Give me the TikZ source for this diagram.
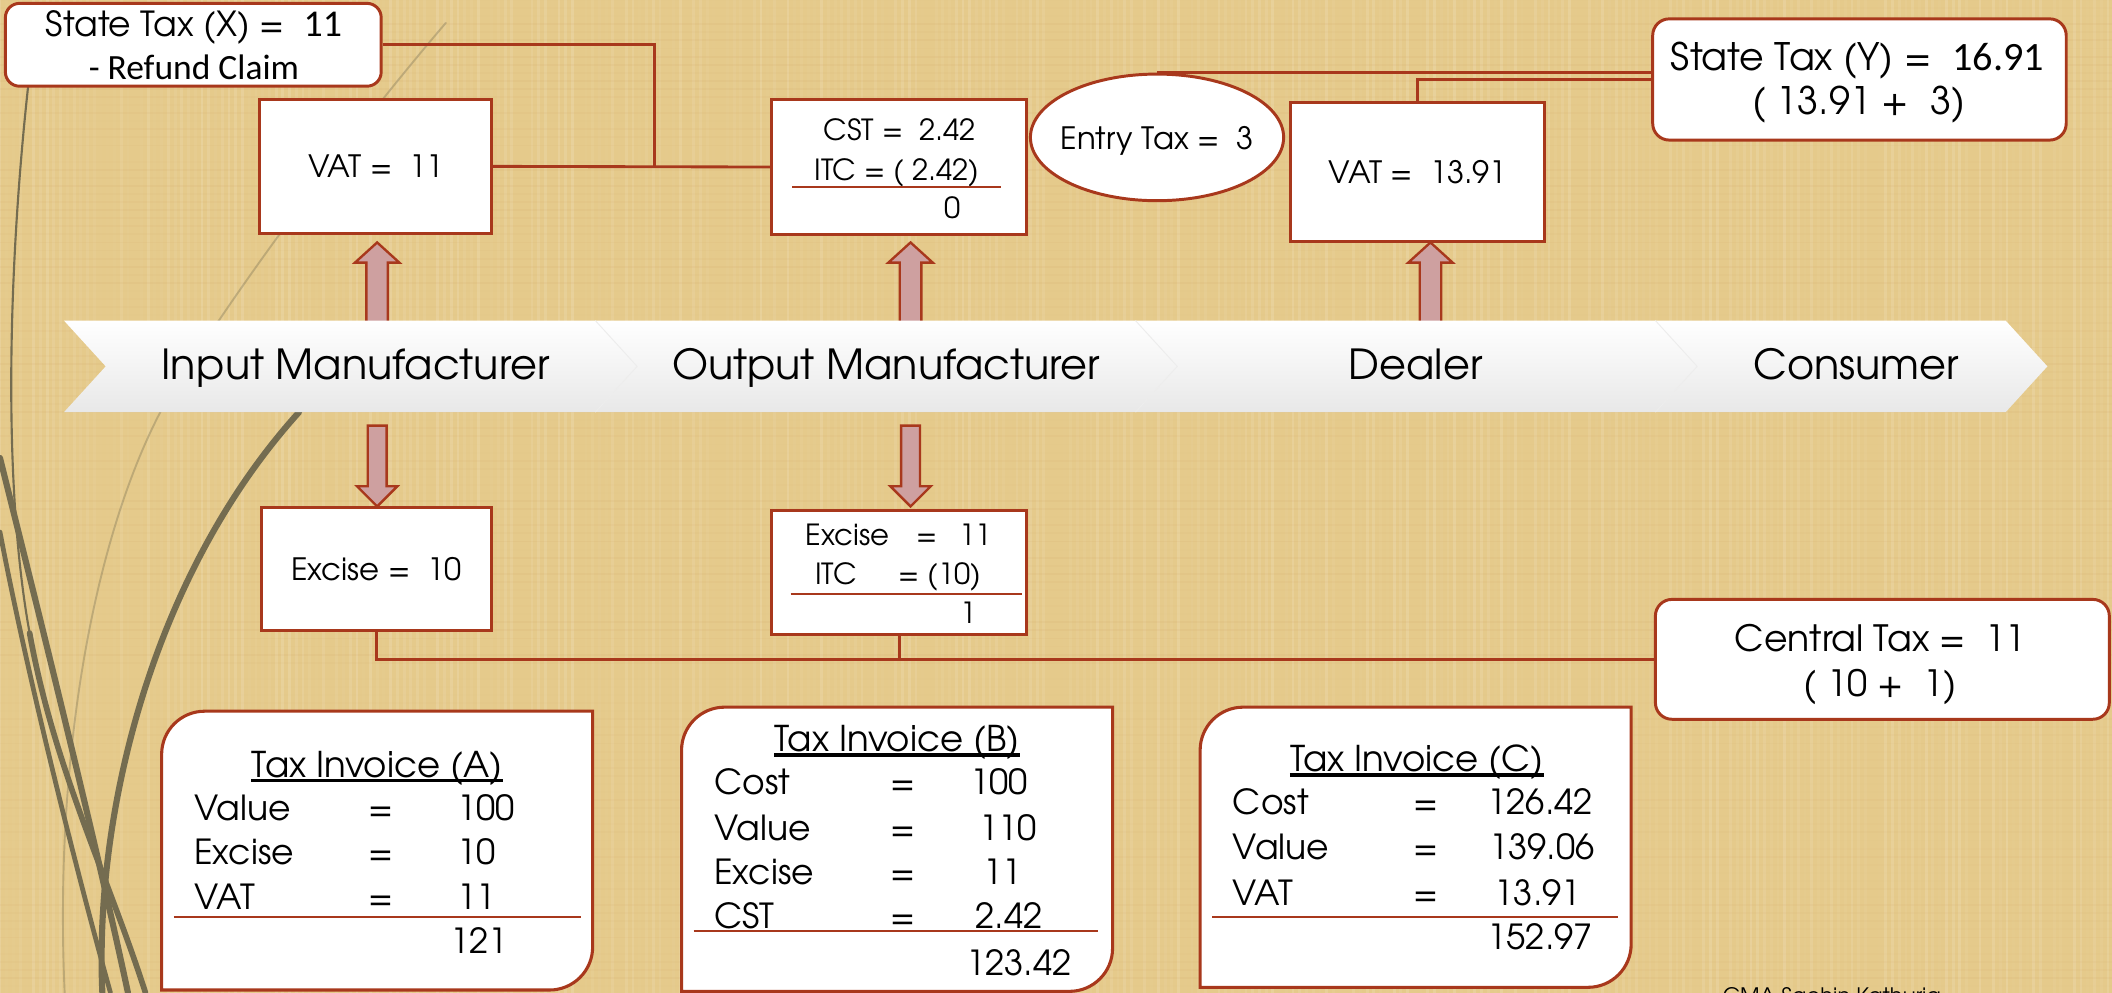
\documentclass[tikz,border=0pt]{standalone}
\usepackage{fontspec}
\IfFontExistsTF{TeX Gyre Adventor}{\setmainfont{TeX Gyre Adventor}}{\setmainfont{TeX Gyre Heros}}
\newfontfamily\calfont{Carlito}
\usetikzlibrary{shapes.geometric,calc}
\definecolor{bgc}{RGB}{229,202,139}
\definecolor{brd}{RGB}{168,56,28}
\definecolor{arrf}{RGB}{206,160,160}
\definecolor{olive}{RGB}{116,108,80}
\newdimen\pxu \pxu=0.02cm
\newcommand\fsz[1]{\fontsize{#1}{#1}\selectfont}
\tikzset{
  box/.style={draw=brd, line width=1.25pt, fill=white, inner sep=0pt},
  rbox/.style={box, rounded corners=7pt},
  conn/.style={draw=brd, line width=1.2pt},
  sub/.style={draw=brd, line width=1pt},
  txt/.style={inner sep=0pt, text=black},
  barrow/.style={draw=brd, line width=1pt, fill=arrf, line join=miter},
  chev/.style={top color=white, bottom color=black!9},
  seam/.style={draw=black!7, line width=0.4pt},
  deco/.style={draw=olive, line cap=round},
  inv/.style={draw=brd, line width=1.3pt, fill=white},
  uline/.style={draw=black, line width=1.4pt},
  band/.style={txt, anchor=base, font=\fsz{17.5}},
  row/.style={txt, font=\fsz{14.6}},
}
\begin{document}
\begin{tikzpicture}[x=0.02cm, y=-0.02cm]
\useasboundingbox (0,0) rectangle (1568,737);
\clip (0,0) rectangle (1568,737);
% background
\fill[bgc] (0,0) rectangle (1568,737);
\pgfmathsetseed{7}
\foreach \i in {0,5,...,1565} {\pgfmathsetmacro\o{0.14*rnd}\draw[white, opacity=\o, line width=1.2pt] (\i,0) -- (\i,737);}
\foreach \j in {0,6,...,736} {\pgfmathsetmacro\o{0.07*rnd}\draw[brown, opacity=\o, line width=0.8pt] (0,\j) -- (1568,\j);}
% decorative curves
\draw[deco, line width=0.9pt] (21,63) .. controls (6,200) and (2,360) .. (22,470);
\draw[deco, line width=2.4pt] (22,470) .. controls (40,570) and (80,650) .. (108,737);
\draw[deco, line width=2.6pt] (0,340) .. controls (30,460) and (70,620) .. (95,737);
\draw[deco, line width=2pt] (0,395) .. controls (20,500) and (55,640) .. (82,737);
\draw[deco, line width=2.6pt] (76,737) .. controls (70,610) and (110,430) .. (222,306);
\draw[deco, line width=0.8pt, opacity=0.35] (331,17) .. controls (260,100) and (170,220) .. (119,306) .. controls (70,400) and (40,560) .. (48,737);
% up arrows (behind band)
\foreach \cx in {280,676,1062} {
  \draw[barrow] (\cx,180) -- (\cx+16.5,195) -- (\cx+8,195) -- (\cx+8,250) -- (\cx-8,250) -- (\cx-8,195) -- (\cx-16.5,195) -- cycle;}
% chevron band
\foreach \xl/\xr in {47.5/442, 442/843, 843/1229, 1229/1489} {
  \shade[chev] (\xl,238) -- (\xr,238) -- (\xr+31,272) -- (\xr,306) -- (\xl,306) -- (\xl+31,272) -- cycle;}
\foreach \xs in {442,843,1229} {\draw[seam] (\xs,238) -- (\xs+31,272) -- (\xs,306);}
\node[band] (b1) at (264,282) {Input Manufacturer};
\node[band] (b2) at (658,282) {Output Manufacturer};
\node[band] (b3) at (1051,282) {Dealer};
\node[band] (b4) at (1378,282) {Consumer};
% down arrows
\foreach \cx in {280,676} {
  \draw[barrow] (\cx-7,316) -- (\cx+7,316) -- (\cx+7,361) -- (\cx+15,361) -- (\cx,376) -- (\cx-15,361) -- (\cx-7,361) -- cycle;}
% top boxes
\node[rbox, rounded corners=6pt, minimum width=279\pxu, minimum height=61.5\pxu] (sx) at (143.5,33.25) {};
\node[txt, anchor=base, font=\fsz{14.6}] (sx1) at (144,27) {State Tax (X) =~ {\calfont\fsz{16}11}};
\node[txt, anchor=base, font=\calfont\fsz{15}] (sx2) at (144,59) {- Refund Claim};
\node[box, minimum width=172\pxu, minimum height=99\pxu, font=\fsz{13}] (vat1) at (279,123.5) {VAT =~ 11};
\node[box, minimum width=189\pxu, minimum height=100\pxu] (cst) at (667.5,124) {};
\node[txt, anchor=base, font=\fsz{12.3}] (cst1) at (668,104) {CST =~ 2.42};
\node[txt, anchor=base, font=\fsz{12.3}] (cst2) at (666,134) {ITC = ( 2.42)};
\node[txt, anchor=base west, font=\fsz{12.3}] (cst3) at (701,162) {0};
\draw[sub] (588,139) -- (743,139);
\node[box, ellipse, minimum width=188\pxu, minimum height=94\pxu] (entry) at (859,102) {};
\node[txt, anchor=base, font=\fsz{13}] (entryt) at (859,111) {Entry Tax =~ 3};
\node[box, minimum width=189\pxu, minimum height=103\pxu, font=\fsz{13}] (vat3) at (1052.5,127.5) {VAT =~ 13.91};
\node[rbox, minimum width=307\pxu, minimum height=90\pxu] (sy) at (1380.5,59) {};
\node[txt, anchor=base, font=\fsz{16}] (sy1) at (1379,52) {State Tax (Y) =~ {\calfont\fsz{17}16.91}};
\node[txt, anchor=base, font=\fsz{16}] (sy2) at (1380,85) {( 13.91 +~ 3)};
% top connectors
\coordinate (j1) at (486,124);
\draw[conn] (sx.east) -| (j1);
\draw[conn] (vat1.east) -- (cst.west);
\draw[conn] (entry.north) -- (entry.north -| sy.west);
\draw[conn] (vat3.north) |- (sy.west);
% lower boxes
\node[box, minimum width=171\pxu, minimum height=91\pxu, font=\fsz{13}] (ex1) at (279.5,422.5) {Excise =~ 10};
\node[box, minimum width=189\pxu, minimum height=92\pxu] (ex2) at (667.5,425) {};
\node[txt, anchor=base west, font=\fsz{12.3}] (ex2a) at (598,405) {Excise};
\node[txt, anchor=base, font=\fsz{12.3}] (ex2b) at (688,405) {=};
\node[txt, anchor=base west, font=\fsz{12.3}] (ex2c) at (712,405) {11};
\node[txt, anchor=base west, font=\fsz{12.3}] (ex2d) at (605,434) {ITC};
\node[txt, anchor=base west, font=\fsz{12.3}] (ex2e) at (667,434) {= (10)};
\node[txt, anchor=base west, font=\fsz{12.3}] (ex2f) at (713,463) {1};
\draw[sub] (587,441) -- (759,441);
\node[rbox, minimum width=337\pxu, minimum height=89\pxu] (ct) at (1397.5,489.5) {};
\node[txt, anchor=base, font=\fsz{15.3}] (ct1) at (1396,484) {Central Tax =~ 11};
\node[txt, anchor=base, font=\fsz{15.3}] (ct2) at (1396,517) {( 10 +~ 1)};
\draw[conn] (ex1.south) |- (ct.west);
\draw[conn] (ex2.south) -- (ex2.south |- ct.west);
% invoice A
\draw[inv] (120,735) -- (120,560) .. controls (120,542.3) and (134.3,528) .. (152,528) -- (440,528) -- (440,703) .. controls (440,720.7) and (425.7,735) .. (408,735) -- cycle;
\node[txt, anchor=base, font=\fsz{15}] (tA) at (280,577) {Tax Invoice (A)};
\draw[uline] ([yshift=-1.4pt]tA.base west) -- ([yshift=-1.4pt]tA.base east);
\node[row, anchor=base west] (a1l) at (144,609) {Value};
\node[row, anchor=base] (a1e) at (283,609) {=};
\node[row, anchor=base west] (a1v) at (339,609) {100};
\node[row, anchor=base west] (a2l) at (144,642) {Excise};
\node[row, anchor=base] (a2e) at (283,642) {=};
\node[row, anchor=base west] (a2v) at (339,642) {10};
\node[row, anchor=base west] (a3l) at (144,675) {VAT};
\node[row, anchor=base] (a3e) at (283,675) {=};
\node[row, anchor=base west] (a3v) at (339,675) {11};
\draw[sub] (129,681) -- (431,681);
\node[row, anchor=base west] (a4v) at (334,708) {121};
% invoice B
\draw[inv] (506,736) -- (506,557) .. controls (506,539.3) and (520.3,525) .. (538,525) -- (826,525) -- (826,704) .. controls (826,721.7) and (811.7,736) .. (794,736) -- cycle;
\node[txt, anchor=base, font=\fsz{15}] (tB) at (666,558) {Tax Invoice (B)};
\draw[uline] ([yshift=-1.4pt]tB.base west) -- ([yshift=-1.4pt]tB.base east);
\node[row, anchor=base west] (b1l) at (530,590) {Cost};
\node[row, anchor=base] (b1e) at (670,590) {=};
\node[row, anchor=base west] (b1v) at (720,590) {100};
\node[row, anchor=base west] (b2l) at (530,624) {Value};
\node[row, anchor=base] (b2e) at (670,624) {=};
\node[row, anchor=base west] (b2v) at (727,624) {110};
\node[row, anchor=base west] (b3l) at (530,657) {Excise};
\node[row, anchor=base] (b3e) at (670,657) {=};
\node[row, anchor=base west] (b3v) at (730,657) {11};
\node[row, anchor=base west] (b4l) at (530,689) {CST};
\node[row, anchor=base] (b4e) at (670,689) {=};
\node[row, anchor=base west] (b4v) at (724,689) {2.42};
\draw[sub] (515,691) -- (815,691);
\node[row, anchor=base west] (b5v) at (717,724) {123.42};
% invoice C
\draw[inv] (891,733) -- (891,557) .. controls (891,539.3) and (905.3,525) .. (923,525) -- (1211,525) -- (1211,701) .. controls (1211,718.7) and (1196.7,733) .. (1179,733) -- cycle;
\node[txt, anchor=base, font=\fsz{15}] (tC) at (1052,573) {Tax Invoice (C)};
\draw[uline] ([yshift=-1.4pt]tC.base west) -- ([yshift=-1.4pt]tC.base east);
\node[row, anchor=base west] (c1l) at (915,605) {Cost};
\node[row, anchor=base] (c1e) at (1059,605) {=};
\node[row, anchor=base east] (c1v) at (1183,605) {126.42};
\node[row, anchor=base west] (c2l) at (915,638) {Value};
\node[row, anchor=base] (c2e) at (1059,638) {=};
\node[row, anchor=base east] (c2v) at (1184,638) {139.06};
\node[row, anchor=base west] (c3l) at (915,672) {VAT};
\node[row, anchor=base] (c3e) at (1059,672) {=};
\node[row, anchor=base east] (c3v) at (1174,672) {13.91};
\draw[sub] (900,681) -- (1201,681);
\node[row, anchor=base east] (c4v) at (1183,705) {152.97};
% footer (cut by the page edge, as in the reference)
\node[txt, anchor=base, font=\fsz{9}] (foot) at (1360,745) {CMA Sachin Kathuria};
\end{tikzpicture}
\end{document}
